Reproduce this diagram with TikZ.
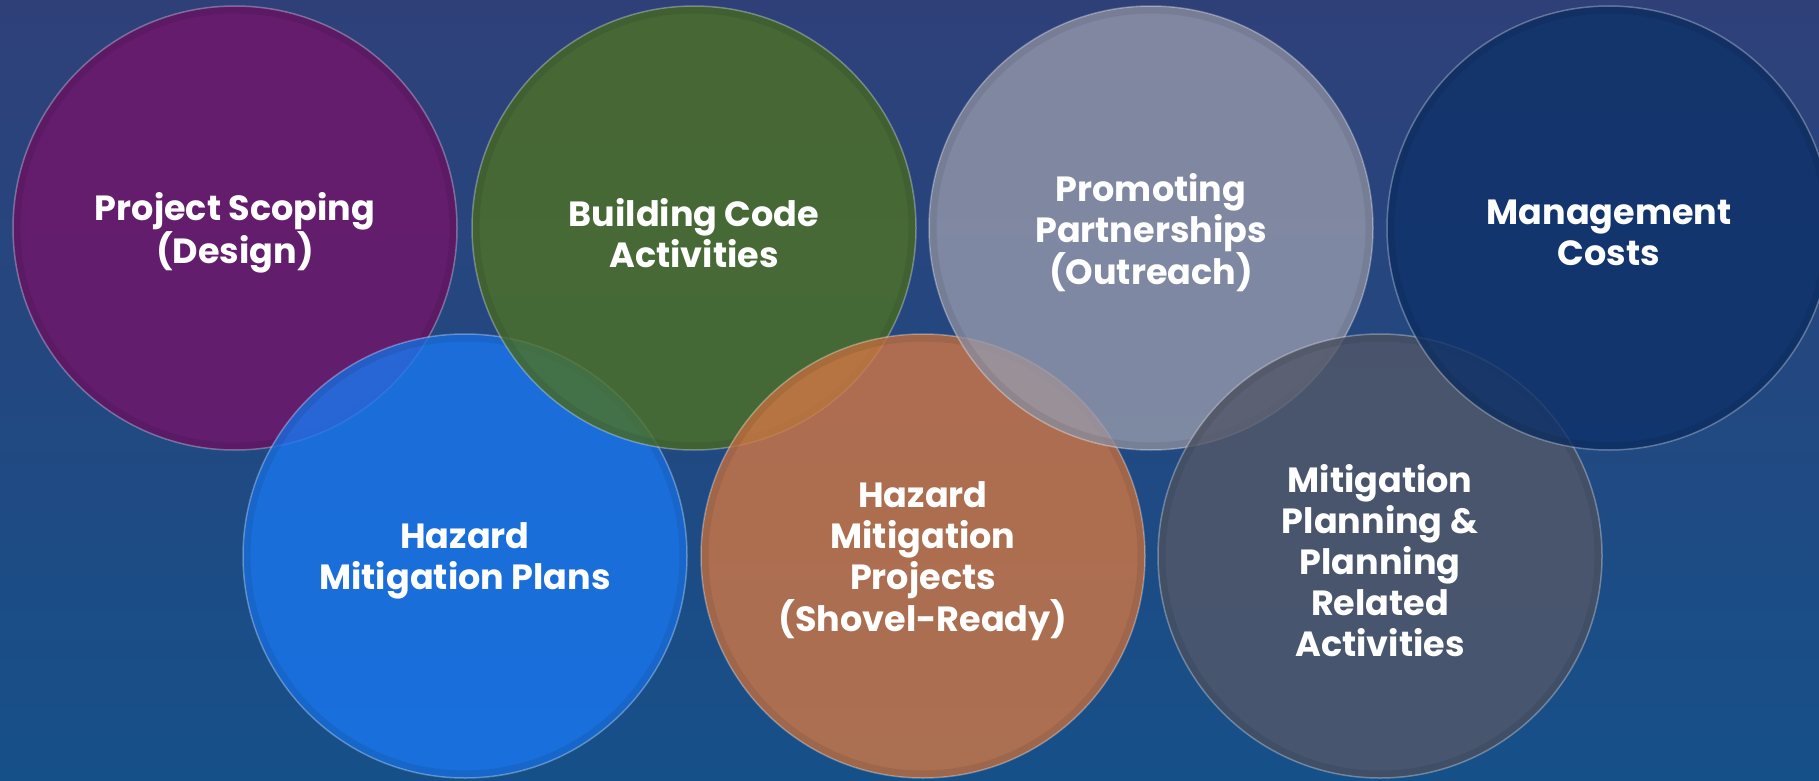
\documentclass[tikz,border=0pt]{standalone}
\usepackage{fontspec}
\setmainfont{Poppins}
\definecolor{bgTop}{RGB}{47,64,121}
\definecolor{bgBot}{RGB}{22,80,137}
\definecolor{cPurple}{RGB}{115,19,105}
\definecolor{cGreen}{RGB}{78,114,36}
\definecolor{cGrey}{RGB}{150,153,171}
\definecolor{cNavy}{RGB}{14,49,105}
\definecolor{cBlue}{RGB}{26,119,240}
\definecolor{cOrange}{RGB}{209,119,68}
\definecolor{cSlate}{RGB}{83,88,104}
\tikzset{
  bub/.style={circle, minimum size=444pt, inner sep=0pt, fill opacity=0.8,
    draw=white, draw opacity=0.3, line width=1.5pt,
    path picture={\draw[black, opacity=0.07, line width=7pt]
      (path picture bounding box.center) circle (218pt);}},
  lbl/.style={text=white, align=center, inner sep=0pt,
    font=\bfseries\fontsize{35}{41}\selectfont}
}
\begin{document}
\begin{tikzpicture}[x=1pt, y=-1pt]
\useasboundingbox (0,0) rectangle (1819,781);
\clip (0,0) rectangle (1819,781);
\shade[top color=bgTop, bottom color=bgBot] (0,0) rectangle (1819,781);
\node[bub, fill=cPurple] (scope) at (235,228) {};
\node[lbl] (scopeT) at ([yshift=-5pt]scope.center) {Project Scoping\\(Design)};
\node[bub, fill=cBlue] (plans) at (465,556) {};
\node[lbl] (plansT) at ([yshift=-5pt]plans.center) {Hazard\\Mitigation Plans};
\node[bub, fill=cGreen] (code) at (694,228) {};
\node[lbl] (codeT) at ([yshift=-5pt]code.center) {Building Code\\Activities};
\node[bub, fill=cOrange] (projects) at (923,556) {};
\node[lbl] (projectsT) at ([yshift=-5pt]projects.center) {Hazard\\Mitigation\\Projects\\(Shovel-Ready)};
\node[bub, fill=cGrey] (partner) at (1151,228) {};
\node[lbl] (partnerT) at ([yshift=-5pt]partner.center) {Promoting\\Partnerships\\(Outreach)};
\node[bub, fill=cSlate] (planning) at (1380,556) {};
\node[lbl] (planningT) at ([yshift=-5pt]planning.center) {Mitigation\\Planning \&\\Planning\\Related\\Activities};
\node[bub, fill=cNavy] (mgmt) at (1609,228) {};
\node[lbl] (mgmtT) at ([yshift=-5pt]mgmt.center) {Management\\Costs};
\end{tikzpicture}
\end{document}
